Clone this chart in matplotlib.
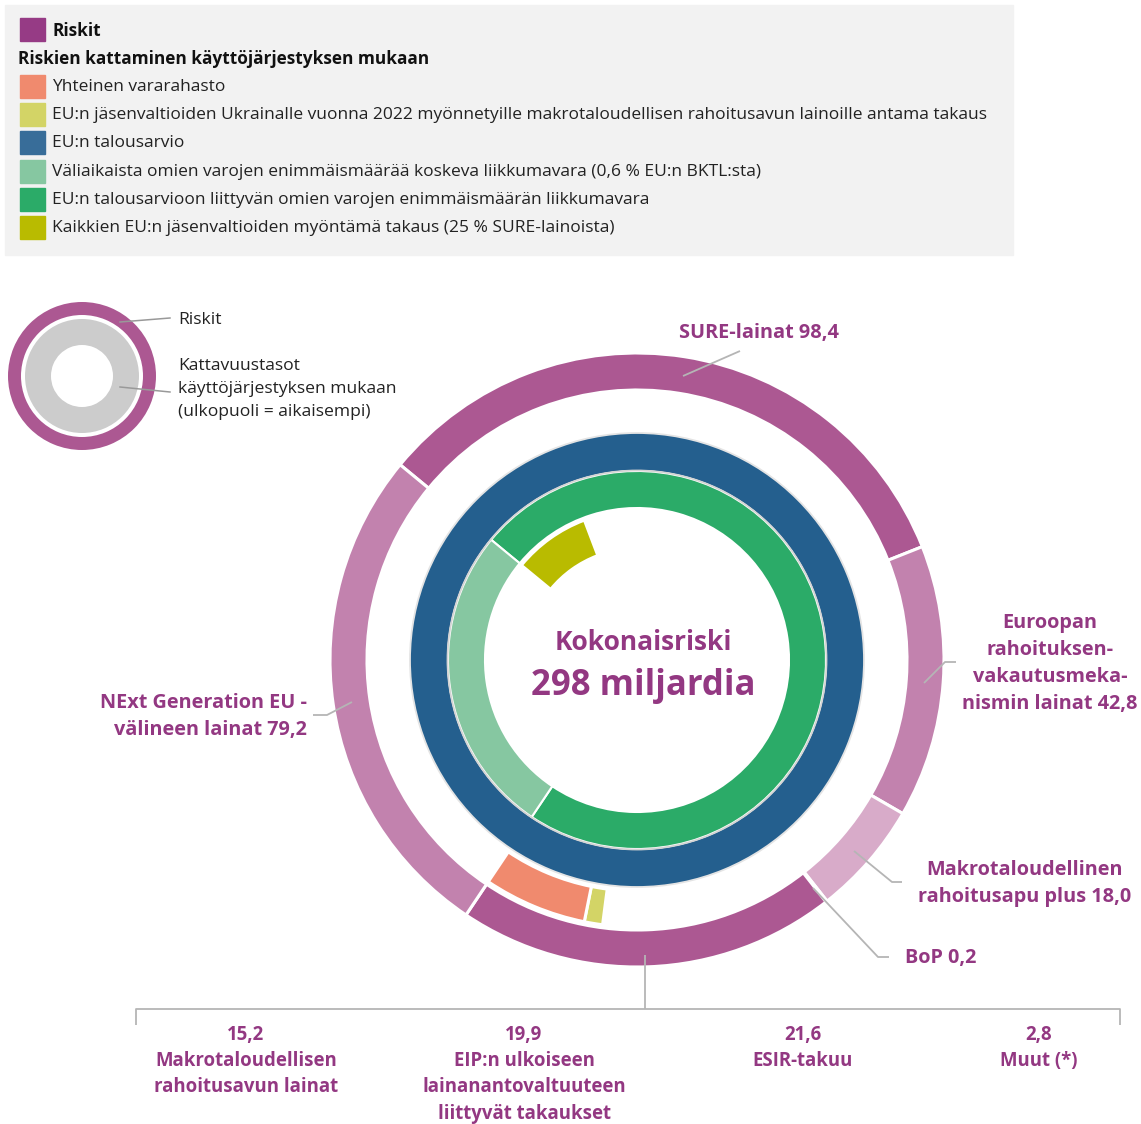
import matplotlib
matplotlib.use("Agg")
import matplotlib.pyplot as plt
from matplotlib.patches import Rectangle, Circle

plt.rcParams['font.family'] = ['Open Sans', 'DejaVu Sans']

# ---------------- data ----------------
risk_labels = ["SURE-lainat", "Euroopan rahoituksenvakautusmekanismin lainat",
               "Makrotaloudellinen rahoitusapu plus", "BoP", "Muut takaukset",
               "NExt Generation EU -välineen lainat"]
bottom_labels = ["Makrotaloudellisen\nrahoitusavun lainat",
                 "EIP:n ulkoiseen\nlainanantovaltuuteen\nliittyvät takaukset",
                 "ESIR-takuu", "Muut (*)"]
bottom_values = [15.2, 19.9, 21.6, 2.8]
risk_values = [98.4, 42.8, 18.0, 0.2, sum(bottom_values), 79.2]

# coverage layers (billion EUR)
common_fund = 18.6          # Yhteinen vararahasto
ukraine_guarantee = 3.3     # EU:n jäsenvaltioiden takaus (Ukraina 2022)
sure_guarantee = 0.25 * risk_values[0]   # 25 % SURE-lainoista
total = sum(risk_values)

legend_items = [
    "Yhteinen vararahasto",
    "EU:n jäsenvaltioiden Ukrainalle vuonna 2022 myönnetyille makrotaloudellisen rahoitusavun lainoille antama takaus",
    "EU:n talousarvio",
    "Väliaikaista omien varojen enimmäismäärää koskeva liikkumavara (0,6 % EU:n BKTL:sta)",
    "EU:n talousarvioon liittyvän omien varojen enimmäismäärän liikkumavara",
    "Kaikkien EU:n jäsenvaltioiden myöntämä takaus (25 % SURE-lainoista)",
]

# ---------------- colours ----------------
PURPLE_TXT = '#933882'
C_RISK = '#963b85'
C_SURE = '#ac5892'
C_EFSM = '#c282ae'
C_MFA = '#d8abc9'
C_ORANGE = '#f08a6e'
C_YELLOW = '#d3d466'
C_BLUE = '#245f8e'
C_LGREEN = '#86c7a1'
C_GREEN = '#2bab68'
C_OLIVE = '#b9bb00'
LINE = '#b5b5b5'
outer_colors = [C_SURE, C_EFSM, C_MFA, C_SURE, C_SURE, C_EFSM]
legend_colors = [C_ORANGE, C_YELLOW, '#386d99', C_LGREEN, C_GREEN, C_OLIVE]

W, H = 1141, 1124
fig = plt.figure(figsize=(W / 100, H / 100), dpi=100)

# ---------------- main donut ----------------
CX, CY = 637, 660
HALF = 350
dax = fig.add_axes([(CX - HALF) / W, (H - CY - HALF) / H, 2 * HALF / W, 2 * HALF / H])
start = 140.5  # matplotlib degrees (counter-clockwise from 3 o'clock)

# outer ring: risks
dax.pie(risk_values, colors=outer_colors, radius=307, startangle=start, counterclock=False,
        wedgeprops=dict(width=37, edgecolor='white', linewidth=2.2))

# ring 1: common provisioning fund + Ukraine guarantee (ending at the start of NGEU)
ngeu_start = sum(risk_values[:-1])
r1_vals = [ngeu_start - common_fund - ukraine_guarantee, ukraine_guarantee, common_fund,
           total - ngeu_start]
r1_cols = ['none', C_YELLOW, C_ORANGE, 'none']
w1, _ = dax.pie(r1_vals, colors=r1_cols, radius=267, startangle=start, counterclock=False,
                wedgeprops=dict(width=36, edgecolor='white', linewidth=2.2))
for w, c in zip(w1, r1_cols):
    if c == 'none':
        w.set_edgecolor('none')

# ring 2: EU budget (all risks, starting at NGEU)
dax.pie([total], colors=[C_BLUE], radius=227,
        startangle=start - ngeu_start / total * 360, counterclock=False,
        wedgeprops=dict(width=38, edgecolor='#e4e4e4', linewidth=1.3))

# ring 3: headroom
dax.pie([ngeu_start, total - ngeu_start], colors=[C_GREEN, C_LGREEN], radius=189,
        startangle=start, counterclock=False,
        wedgeprops=dict(width=37, edgecolor='white', linewidth=1.5))
dax.add_patch(Circle((0, 0), 189.5, fill=False, edgecolor='#d4d4d4', linewidth=1.3))

# ring 4: all member states guarantee (25 % SURE)
w4, _ = dax.pie([sure_guarantee, total - sure_guarantee], colors=[C_OLIVE, 'none'], radius=149,
                startangle=start, counterclock=False,
                wedgeprops=dict(width=37, edgecolor='white', linewidth=1.5))
w4[1].set_edgecolor('none')

dax.set_xlim(-HALF, HALF)
dax.set_ylim(-HALF, HALF)
dax.set_aspect('equal')
dax.axis('off')

# ---------------- small key donut ----------------
KX, KY, KH = 82, 376, 80
kax = fig.add_axes([(KX - KH) / W, (H - KY - KH) / H, 2 * KH / W, 2 * KH / H])
kax.pie([1], colors=[C_SURE], radius=74, wedgeprops=dict(width=13, linewidth=0))
kax.pie([1], colors=['#cccccc'], radius=57, wedgeprops=dict(width=26, linewidth=0))
kax.set_xlim(-KH, KH)
kax.set_ylim(-KH, KH)
kax.set_aspect('equal')
kax.axis('off')

# overlay axes in pixel coordinates (y down), drawn on top
ov = fig.add_axes([0, 0, 1, 1])
ov.set_xlim(0, W)
ov.set_ylim(H, 0)
ov.axis('off')
ov.set_zorder(10)

# ---------------- legend box ----------------
ov.add_patch(Rectangle((5, 5), 1008, 250, color='#f2f2f2', zorder=0))
ov.add_patch(Rectangle((20, 18), 25, 23, color=C_RISK))
ov.text(52, 31, "Riskit", fontsize=12.4, fontweight='bold', va='center', color='#111111')
ov.text(18, 59, "Riskien kattaminen käyttöjärjestyksen mukaan", fontsize=12.4,
        fontweight='bold', va='center', color='#111111')
for i, (lab, col) in enumerate(zip(legend_items, legend_colors)):
    y = 86 + i * 28.2
    ov.add_patch(Rectangle((20, y - 11), 25, 23, color=col))
    ov.text(52, y + 1, lab, fontsize=12.5, va='center', color='#222222')

ov.plot([120, 170], [322, 318], color='#999999', lw=1.1)
ov.plot([120, 170], [387, 392], color='#999999', lw=1.1)
ov.text(178, 320, "Riskit", fontsize=12.6, va='center', color='#222222')
for j, t in enumerate(["Kattavuustasot", "käyttöjärjestyksen mukaan", "(ulkopuoli = aikaisempi)"]):
    ov.text(178, 366 + j * 23, t, fontsize=12.6, va='center', color='#222222')

# ---------------- labels ----------------
def lines(x, y0, step, txts, ha='center', size=14.3):
    for k, t in enumerate(txts):
        ov.text(x, y0 + k * step, t, fontsize=size, fontweight='bold', color=PURPLE_TXT,
                ha=ha, va='center')

fmt = lambda v: f"{v:.1f}".replace('.', ',')

lines(759, 333, 27, [f"SURE-lainat {fmt(risk_values[0])}"])
lines(1050, 623, 27, ["Euroopan", "rahoituksen-", "vakautusmeka-",
                      f"nismin lainat {fmt(risk_values[1])}"])
lines(1025, 870, 27, ["Makrotaloudellinen", f"rahoitusapu plus {fmt(risk_values[2])}"])
lines(905, 958, 27, [f"BoP {fmt(risk_values[3])}"], ha='left')
lines(307, 703, 27, ["NExt Generation EU -", f"välineen lainat {fmt(risk_values[5])}"], ha='right')

bottom_x = [246, 524, 803, 1039]
for bx, bv, bl in zip(bottom_x, bottom_values, bottom_labels):
    lines(bx, 1035, 26.2, [fmt(bv)] + bl.split("\n"), size=13.4)

ov.text(643, 643, "Kokonaisriski", fontsize=19, fontweight='bold', color=PURPLE_TXT,
        ha='center', va='center')
ov.text(643, 686, "298 miljardia", fontsize=25, fontweight='bold', color=PURPLE_TXT,
        ha='center', va='center')

# leader lines
lk = dict(color=LINE, lw=1.3, solid_capstyle='butt')
ov.plot([683, 740], [376, 351], **lk)
ov.plot([924, 945, 956], [683, 662, 662], **lk)
ov.plot([854, 892, 902], [851, 882, 882], **lk)
ov.plot([813, 878, 889], [888, 957, 957], **lk)
ov.plot([313, 327, 352], [715, 715, 702], **lk)
ov.plot([645, 645], [955, 1009], **lk)
ov.plot([136, 136, 1120, 1120], [1025, 1009, 1009, 1025], **lk)

fig.savefig("out.png", dpi=100)
